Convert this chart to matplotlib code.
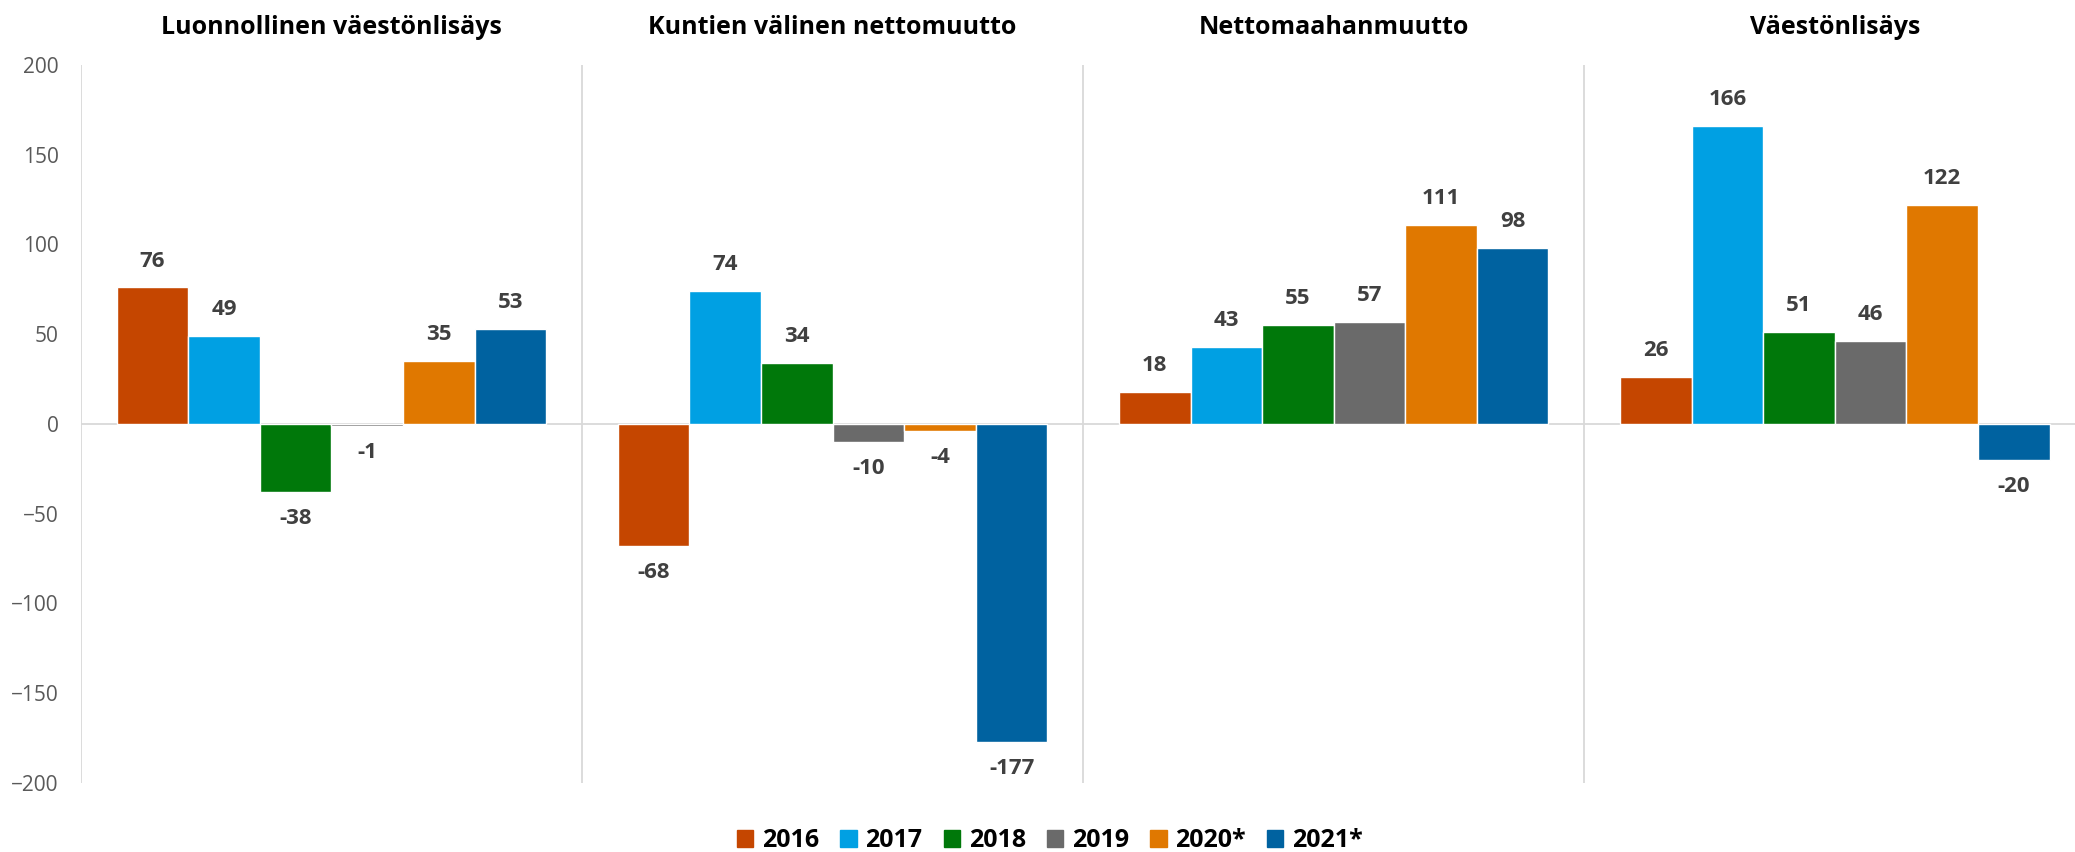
import numpy as np
import matplotlib.pyplot as plt
import matplotlib.patches as mpatches

plt.rcParams['font.family'] = ['Open Sans', 'DejaVu Sans']

# data
categories = ['Luonnollinen väestönlisäys', 'Kuntien välinen nettomuutto',
              'Nettomaahanmuutto', 'Väestönlisäys']
years = ['2016', '2017', '2018', '2019', '2020*', '2021*']
v2016 = [76, -68, 18, 26]
v2017 = [49, 74, 43, 166]
v2018 = [-38, 34, 55, 51]
v2019 = [-1, -10, 57, 46]
v2020 = [35, -4, 111, 122]
v2021 = [53, -177, 98, -20]
series = [v2016, v2017, v2018, v2019, v2020, v2021]
colors = ['#C54600', '#00A0E3', '#00780A', '#6A6A6A', '#E07800', '#0062A0']

fig = plt.figure(figsize=(20.75, 8.52), dpi=100)
ax = fig.add_axes([0.039, 0.081, 0.966, 0.843])

n = len(series)
bar_w = 1.0 / (n + 1)
x = np.arange(len(categories))

for i, (vals, col) in enumerate(zip(series, colors)):
    pos = x - 0.5 + bar_w / 2 + bar_w * (i + 0.5)
    ax.bar(pos, vals, width=bar_w, color=col, edgecolor='white', linewidth=1, zorder=3)
    for xp, v in zip(pos, vals):
        off = 19 if v > 0 else -19
        ax.annotate(str(v), (xp, v), xytext=(0, off), textcoords='offset points',
                    ha='center', va='center', fontsize=16, fontweight='bold',
                    color='#404040')

# category titles
for xi, cat in zip(x, categories):
    ax.annotate(cat, (xi, 200), xytext=(0, 27), textcoords='offset points',
                ha='center', va='center', fontsize=18, fontweight='bold',
                color='black', annotation_clip=False)

# dividers and zero line
for xd in np.arange(-0.5, len(categories), 1.0)[:-1]:
    ax.axvline(xd, color='#D9D9D9', lw=1.3, zorder=1)
ax.axhline(0, color='#D9D9D9', lw=1.3, zorder=2)

ax.set_xlim(-0.5, len(categories) - 0.5)
ax.set_ylim(-200, 200)
ax.set_yticks(range(-200, 201, 50))
ax.set_xticks([])
ax.tick_params(axis='y', length=0, pad=16, labelsize=15, labelcolor='#595959')
for s in ax.spines.values():
    s.set_visible(False)

handles = [mpatches.Patch(color=c, label=y) for c, y in zip(colors, years)]
fig.legend(handles=handles, loc='lower center', bbox_to_anchor=(0.506, -0.028), ncol=6,
           frameon=False, handlelength=0.65, handleheight=0.65, handletextpad=0.35,
           columnspacing=0.85, prop={'size': 18, 'weight': 'bold'})

fig.savefig('out.png', dpi=100)
